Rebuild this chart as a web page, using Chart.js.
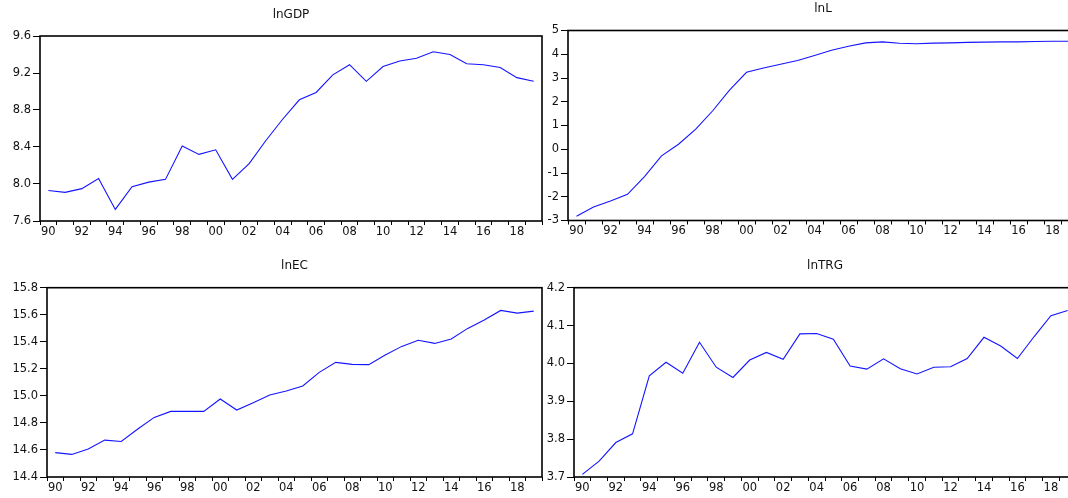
<!DOCTYPE html>
<html>
<head>
<meta charset="utf-8">
<script src="https://cdn.jsdelivr.net/npm/chart.js@4.4.0/dist/chart.umd.min.js"></script>
<style>
html,body{margin:0;padding:0;background:#fff;width:1068px;height:498px;overflow:hidden;position:relative}
canvas{position:absolute;display:block}
</style>
</head>
<body>
<canvas id="c1" width="548" height="250" style="left:0px;top:0px"></canvas>
<canvas id="c2" width="560" height="250" style="left:530px;top:0px"></canvas>
<canvas id="c3" width="548" height="248" style="left:0px;top:250px"></canvas>
<canvas id="c4" width="560" height="248" style="left:530px;top:250px"></canvas>
<script>
// ---- data ----
const years = ['1990','1991','1992','1993','1994','1995','1996','1997','1998','1999',
               '2000','2001','2002','2003','2004','2005','2006','2007','2008','2009',
               '2010','2011','2012','2013','2014','2015','2016','2017','2018','2019'];
const xTickLabels = ['90','','92','','94','','96','','98','','00','','02','','04','','06','','08','',
                     '10','','12','','14','','16','','18',''];

const lnGDP = [7.93, 7.91, 7.95, 8.06, 7.725, 7.97, 8.02, 8.05, 8.41, 8.32,
               8.37, 8.05, 8.22, 8.47, 8.70, 8.91, 8.99, 9.18, 9.29, 9.11,
               9.27, 9.33, 9.36, 9.43, 9.40, 9.30, 9.29, 9.26, 9.15, 9.11];
const lnL   = [-2.82, -2.43, -2.18, -1.90, -1.15, -0.28, 0.21, 0.84, 1.61, 2.49,
               3.24, 3.42, 3.58, 3.74, 3.95, 4.17, 4.34, 4.48, 4.52, 4.46,
               4.44, 4.47, 4.48, 4.50, 4.51, 4.52, 4.52, 4.54, 4.55, 4.55];
const lnEC  = [14.58, 14.567, 14.607, 14.673, 14.663, 14.755, 14.841, 14.885, 14.885, 14.885,
               14.977, 14.895, 14.95, 15.006, 15.036, 15.073, 15.174, 15.248, 15.233, 15.231,
               15.302, 15.366, 15.411, 15.388, 15.42, 15.499, 15.561, 15.632, 15.612, 15.627];
const lnTRG = [3.707, 3.742, 3.791, 3.814, 3.967, 4.003, 3.974, 4.056, 3.990, 3.963,
               4.009, 4.029, 4.011, 4.078, 4.079, 4.064, 3.993, 3.985, 4.012, 3.986,
               3.972, 3.990, 3.991, 4.013, 4.069, 4.046, 4.013, 4.071, 4.126, 4.14];

const gdpTicks = [7.6, 8.0, 8.4, 8.8, 9.2, 9.6];
const lTicks   = [-3, -2, -1, 0, 1, 2, 3, 4, 5];
const ecTicks  = [14.4, 14.6, 14.8, 15.0, 15.2, 15.4, 15.6, 15.8];
const trgTicks = [3.7, 3.8, 3.9, 4.0, 4.1, 4.2];

// ---- styling ----
Chart.defaults.font.family = '"DejaVu Sans", "Liberation Sans", Arial, sans-serif';
Chart.defaults.font.size = 11.5;
Chart.defaults.color = '#111';

const framePlugin = {
  id: 'frame',
  afterDraw(chart) {
    const {ctx, chartArea: a} = chart;
    ctx.save();
    ctx.strokeStyle = '#000';
    ctx.lineWidth = 1.6;
    ctx.strokeRect(a.left, a.top, a.right - a.left, a.bottom - a.top);
    ctx.restore();
  }
};

function makeChart(id, title, data, ticks, decimals, geo) {
  return new Chart(document.getElementById(id), {
    type: 'line',
    data: {
      labels: years,
      datasets: [{
        label: title,
        data: data,
        borderColor: 'rgb(20,20,255)',
        borderWidth: 1.1,
        pointRadius: 0,
        fill: false,
        tension: 0
      }]
    },
    options: {
      responsive: false,
      animation: false,
      events: [],
      layout: { padding: { left: 0, right: geo.padRight, top: 0, bottom: 0 } },
      plugins: {
        legend: { display: false },
        tooltip: { enabled: false },
        title: {
          display: true,
          text: title,
          fullSize: false,
          font: { size: 12, weight: 'normal' },
          color: '#111',
          padding: { top: geo.titleTop, bottom: 14.3 }
        }
      },
      scales: {
        x: {
          type: 'category',
          offset: true,
          afterFit: s => { s.height = geo.xHeight; },
          grid: { offset: true, drawOnChartArea: false, drawTicks: true, tickLength: 4, color: '#000', lineWidth: 1 },
          border: { display: false },
          ticks: {
            autoSkip: false, maxRotation: 0, minRotation: 0, padding: 0,
            callback: (v, i) => xTickLabels[i]
          }
        },
        y: {
          type: 'linear',
          min: ticks[0],
          max: ticks[ticks.length - 1],
          afterFit: s => { s.width = geo.yWidth; },
          afterBuildTicks: s => { s.ticks = ticks.map(v => ({ value: v })); },
          grid: { drawOnChartArea: false, drawTicks: true, tickLength: 7, color: '#000', lineWidth: 1 },
          border: { display: false },
          ticks: { padding: 2, callback: v => Number(v).toFixed(decimals) }
        }
      }
    },
    plugins: [framePlugin]
  });
}

makeChart('c1', 'lnGDP', lnGDP, gdpTicks, 1, { yWidth: 40, padRight: 6, xHeight: 29, titleTop: 7.3 });
makeChart('c2', 'lnL', lnL, lTicks, 0, { yWidth: 38, padRight: 12, xHeight: 29.5, titleTop: 1.8 });
makeChart('c3', 'lnEC', lnEC, ecTicks, 1, { yWidth: 47, padRight: 6, xHeight: 21, titleTop: 9 });
makeChart('c4', 'lnTRG', lnTRG, trgTicks, 1, { yWidth: 44, padRight: 14, xHeight: 21, titleTop: 9 });
</script>
</body>
</html>
